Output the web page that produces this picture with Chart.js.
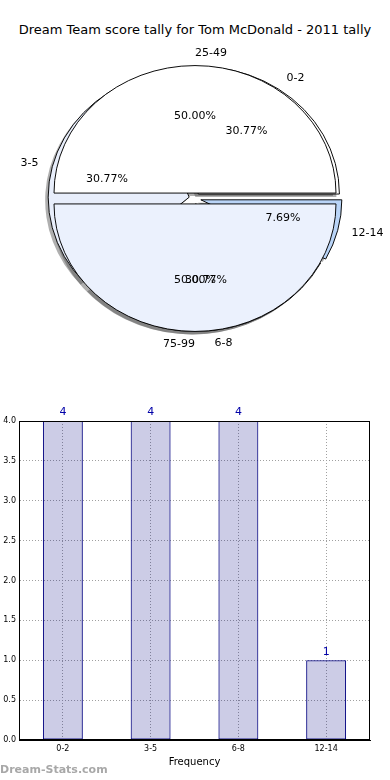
<!DOCTYPE html>
<html>
<head>
<meta charset="utf-8">
<title>Dream Team score tally</title>
<script src="https://cdn.jsdelivr.net/npm/chart.js@4.4.1/dist/chart.umd.min.js"></script>
<style>
  body { margin: 0; background: #fff; width: 390px; height: 780px; position: relative; overflow: hidden; font-family: "DejaVu Sans", sans-serif; }
  #title { position: absolute; top: 22px; left: 0; width: 390px; text-align: center; font-size: 13px; color: #000; }
  #pieChart { position: absolute; left: 0; top: 0; }
  #barChart { position: absolute; left: 0; top: 400px; }
  #mark { position: absolute; left: 0; top: 763px; font-size: 11px; font-weight: bold; color: #a8a8a8; }
</style>
</head>
<body>
<div id="title">Dream Team score tally for Tom McDonald - 2011 tally</div>
<canvas id="pieChart" width="390" height="397"></canvas>
<canvas id="barChart" width="390" height="368"></canvas>
<div id="mark">Dream-Stats.com</div>

<script>
// pie drawn on top (two halves)
const outerLabels = ["25-49", "75-99"];
const outerValues = [1, 1];
const outerColors = ["#ffffff", "#ebf1fd"];

// pie drawn underneath (score bands)
const innerLabels = ["0-2", "3-5", "6-8", "12-14"];
const innerValues = [4, 4, 4, 1];
const innerColors = ["#ffffff", "#e8eefb", "#ffffff", "#b9d4f7"];

// frequency bars
const barLabels = ["0-2", "3-5", "6-8", "12-14"];
const barValues = [4, 4, 4, 1];

Chart.defaults.font.family = '"DejaVu Sans", sans-serif';
Chart.defaults.color = "#000";

const R = 141;          // horizontal radius
const SY = 127.5 / 141; // squash to get the oval look
const EXPLODE = 6;      // slice pull-out in px

// inner pie goes counter-clockwise from east, so feed it reversed, clockwise
const rev = a => a.slice().reverse();

const piePlugin = {
  id: "pieBits",
  afterDatasetsUpdate(chart) {
    // both datasets on the same full disc (not rings), each slice pulled out a bit
    const a = chart.chartArea;
    const cx = (a.left + a.right) / 2, cy = (a.top + a.bottom) / 2;
    chart.getSortedVisibleDatasetMetas().forEach(m => {
      m.data.forEach(arc => {
        const mid = (arc.startAngle + arc.endAngle) / 2;
        arc.outerRadius = R;
        arc.innerRadius = 0;
        arc.x = cx + Math.cos(mid) * EXPLODE;
        arc.y = cy + Math.sin(mid) * EXPLODE;
      });
    });
  },
  beforeDatasetsDraw(chart) {
    const a = chart.chartArea, ctx = chart.ctx;
    const cx = (a.left + a.right) / 2, cy = (a.top + a.bottom) / 2;
    ctx.save();
    ctx.translate(cx, cy);
    ctx.scale(1, SY);
    ctx.translate(-cx, -cy);
    // drop shadows under every slice, before any slice is filled
    ctx.fillStyle = "rgba(77,77,77,0.45)";
    chart.getSortedVisibleDatasetMetas().forEach(m => {
      m.data.forEach(arc => {
        const x = arc.x - 3, y = arc.y + 3 / SY;
        ctx.beginPath();
        ctx.moveTo(x, y);
        ctx.arc(x, y, R, arc.startAngle, arc.endAngle);
        ctx.closePath();
        ctx.fill();
      });
    });
  },
  afterDatasetsDraw(chart) { chart.ctx.restore(); },
  afterDraw(chart) {
    const ctx = chart.ctx;
    const a = chart.chartArea;
    const cx = (a.left + a.right) / 2, cy = (a.top + a.bottom) / 2;
    ctx.save();
    ctx.font = '11px "DejaVu Sans"';
    ctx.fillStyle = "#000";
    ctx.textBaseline = "middle";
    chart.data.datasets.forEach((ds, di) => {
      const meta = chart.getDatasetMeta(di);
      const total = ds.data.reduce((s, v) => s + v, 0);
      meta.data.forEach((arc, i) => {
        const mid = (arc.startAngle + arc.endAngle) / 2;
        const c = Math.cos(mid), s = Math.sin(mid);
        const px = r => cx + c * (EXPLODE + r);
        const py = r => cy + s * (EXPLODE + r) * SY;
        ctx.textAlign = "center";
        ctx.fillText((ds.data[i] / total * 100).toFixed(2) + "%", px(0.6 * R), py(0.6 * R));
        ctx.textAlign = c > 1e-9 ? "left" : c < -1e-9 ? "right" : (s < 0 ? "left" : "right");
        ctx.fillText(ds.names[i], px(1.1 * R), py(1.1 * R));
      });
    });
    ctx.restore();
  }
};

new Chart(document.getElementById("pieChart"), {
  type: "pie",
  data: {
    labels: outerLabels,
    datasets: [
      {
        names: outerLabels,
        data: outerValues,
        backgroundColor: outerColors,
        borderColor: "#000",
        borderWidth: 1,
        rotation: 270
      },
      {
        names: rev(innerLabels),
        data: rev(innerValues),
        backgroundColor: rev(innerColors),
        borderColor: "#000",
        borderWidth: 1,
        rotation: 90
      }
    ]
  },
  options: {
    responsive: false,
    animation: false,
    events: [],
    layout: { padding: 0 },
    plugins: { legend: { display: false }, tooltip: { enabled: false } }
  },
  plugins: [piePlugin]
});

const barExtras = {
  id: "barExtras",
  afterDraw(chart) {
    const ctx = chart.ctx, a = chart.chartArea;
    ctx.save();
    ctx.strokeStyle = "#000";
    ctx.lineWidth = 1;
    ctx.strokeRect(a.left + 0.5, a.top + 0.5, a.right - a.left - 1, a.bottom - a.top - 1);
    ctx.font = '11px "DejaVu Sans"';
    ctx.fillStyle = "#0000a8";
    ctx.textAlign = "center";
    ctx.textBaseline = "bottom";
    chart.getDatasetMeta(0).data.forEach((bar, i) => {
      ctx.fillText(String(barValues[i]), bar.x, bar.y - 3);
    });
    ctx.restore();
  }
};

const gridStyle = { color: "#a0a0a0", lineWidth: 1, drawTicks: false };

new Chart(document.getElementById("barChart"), {
  type: "bar",
  data: {
    labels: barLabels,
    datasets: [{
      data: barValues,
      backgroundColor: "rgba(0,0,128,0.2)",
      borderColor: "#000080",
      borderWidth: 1,
      borderSkipped: false,
      barPercentage: 0.455,
      categoryPercentage: 1
    }]
  },
  options: {
    responsive: false,
    animation: false,
    events: [],
    layout: { padding: { top: 21, right: 20, bottom: 0, left: 0 } },
    plugins: { legend: { display: false }, tooltip: { enabled: false } },
    scales: {
      x: {
        grid: Object.assign({ offset: false }, gridStyle),
        border: { color: "#000", dash: [1, 2] },
        ticks: { font: { size: 8 }, color: "#000", padding: 4, maxRotation: 0 },
        title: { display: true, text: "Frequency", font: { size: 10 }, color: "#000", padding: { top: 1, bottom: 0 } },
        afterFit(s) { s.height = 28; }
      },
      y: {
        min: 0,
        max: 4,
        grid: gridStyle,
        border: { color: "#000", dash: [1, 2] },
        ticks: { stepSize: 0.5, font: { size: 8 }, color: "#000", padding: 3, callback: v => v.toFixed(1) },
        afterFit(s) { s.width = 19; }
      }
    }
  },
  plugins: [barExtras]
});
</script>
</body>
</html>
